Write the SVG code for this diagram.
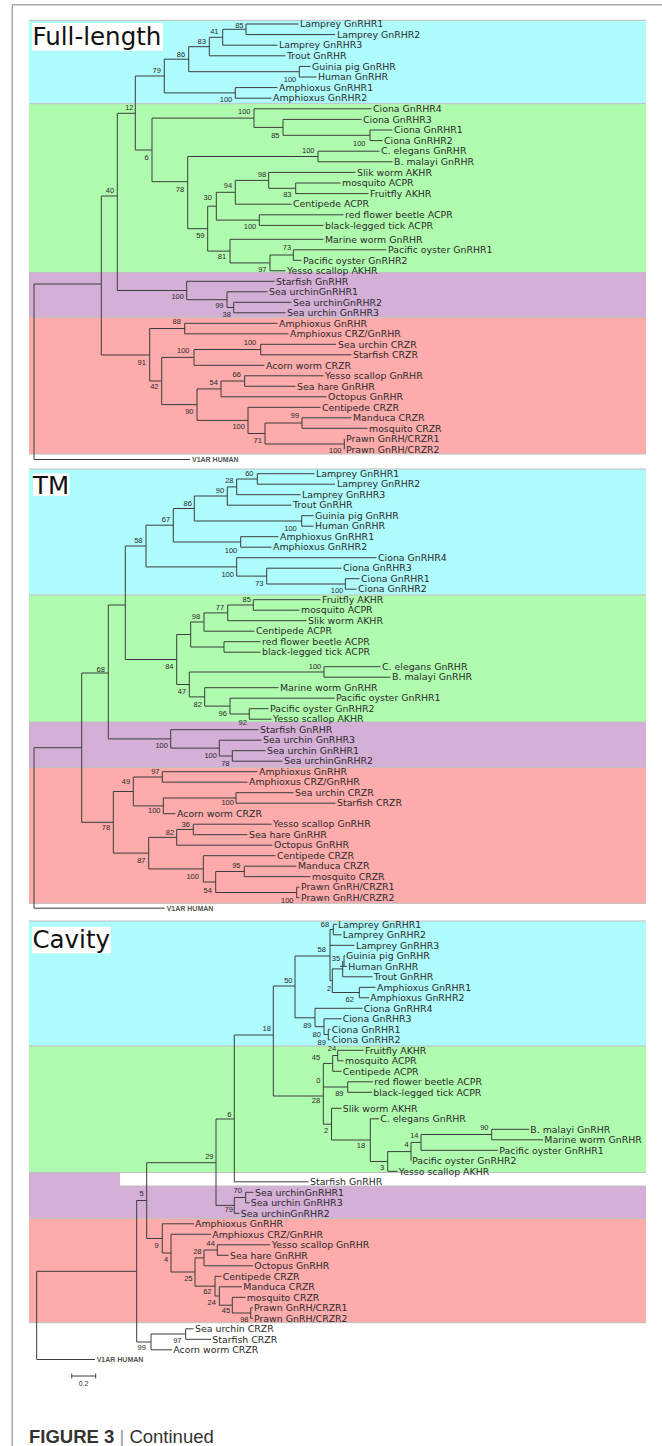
<svg xmlns="http://www.w3.org/2000/svg" width="662" height="1446" viewBox="0 0 662 1446">
<style>
.b{fill:none;stroke:#3c3c3c;stroke-width:1}
.t{font-family:"DejaVu Sans",Verdana,sans-serif;font-size:9.4px;fill:#2a2a2a}
.s{font-family:"Liberation Sans",Arial,sans-serif;font-size:7.5px;fill:#2a2a2a;text-anchor:middle}
.v{font-family:"Liberation Sans",Arial,sans-serif;font-size:7px;font-weight:bold;fill:#555}
.h{font-family:"DejaVu Sans",Verdana,sans-serif;font-size:24.5px;fill:#111}
.sep{stroke:#bfbfbf;stroke-width:1}
.cy{fill:#aefcfc}.gr{fill:#b0fcae}.pu{fill:#d4afd6}.pk{fill:#fdabab}
</style>
<rect width="662" height="1446" fill="#fff"/>
<path d="M12.3 4.7H662M12.3 4.7V1446" stroke="#a8a8a8" stroke-width="1.5" fill="none"/>
<g id="bands">
<rect class="cy" x="29" y="20.3" width="617" height="83.4"/>
<rect class="gr" x="29" y="103.7" width="617" height="168.8"/>
<rect class="pu" x="29" y="272.5" width="617" height="44.8"/>
<rect class="pk" x="29" y="317.3" width="617" height="136.7"/>
<rect class="cy" x="29" y="469" width="617" height="126"/>
<rect class="gr" x="29" y="595" width="617" height="127"/>
<rect class="pu" x="29" y="722" width="617" height="45.3"/>
<rect class="pk" x="29" y="767.3" width="617" height="136"/>
<rect class="cy" x="29" y="921" width="617" height="125"/>
<rect class="gr" x="29" y="1046" width="617" height="126.5"/>
<rect class="pu" x="29" y="1172.5" width="617" height="45.8"/>
<rect fill="#fff" x="120" y="1172.5" width="526" height="13.5"/>
<rect class="pk" x="29" y="1218.3" width="617" height="104.4"/>
<path class="sep" d="M29 20.3H646M29 103.7H646M29 272.5H646M29 317.3H646M29 454H646M29 469H646M29 595H646M29 722H646M29 767.3H646M29 903.3H646M29 921H646M29 1046H646M29 1172.5H646M120 1186H646M29 1218.3H646M29 1322.7H646"/>
</g>
<g id="titles">
<rect x="32" y="23" width="131" height="27.7" fill="#fff"/>
<text class="h" x="32.5" y="45">Full-length</text>
<rect x="33" y="473.3" width="36.5" height="22.7" fill="#fff"/>
<text class="h" x="33" y="494">TM</text>
<rect x="32" y="926.7" width="79" height="26.6" fill="#fff"/>
<text class="h" x="32.5" y="948">Cavity</text>
</g>
<g id="connectors">
<path class="b" d="M246 24V34.6M246 24H298.5M246 34.6H335M222.7 29.3V45.2M222.7 29.3H246M222.7 45.2H277.5M209.3 37.3V55.8M209.3 37.3H222.7M209.3 55.8H285.5M299.3 66.4V77M299.3 66.4H310.5M299.3 77H316.5M188.7 46.7V71.7M188.7 46.7H209.3M188.7 71.7H299.3M235.3 87.6V98.2M235.3 87.6H277.5M235.3 98.2H271.5M164.3 59.2V92.9M164.3 59.2H188.7M164.3 92.9H235.3M370 130V140.6M370 130H392.5M370 140.6H382.5M283 119.4V135.3M283 119.4H361.5M283 135.3H370M254 108.8V127.4M254 108.8H371.5M254 127.4H283M318 151.2V161.8M318 151.2H379.5M318 161.8H392.5M295.7 183V193.6M295.7 183H340.5M295.7 193.6H368.5M268.7 172.4V188.3M268.7 172.4H355.5M268.7 188.3H295.7M235.3 180.4V204.2M235.3 180.4H268.7M235.3 204.2H291.5M259.3 214.8V225.4M259.3 214.8H343.5M259.3 225.4H323.5M216.3 192.3V220.1M216.3 192.3H235.3M216.3 220.1H259.3M293.3 249.8V260.3M293.3 249.8H386.5M293.3 260.3H301.5M270 255V270.8M270 255H293.3M270 270.8H285.5M230 239.3V262.9M230 239.3H323.5M230 262.9H270M207.7 206.2V251.1M207.7 206.2H216.3M207.7 251.1H230M187.7 156.5V228.7M187.7 156.5H318M187.7 228.7H207.7M152 118.1V181.7M152 118.1H254M152 181.7H187.7M135.3 76V150M135.3 76H164.3M135.3 150H152M233.7 302.3V312.8M233.7 302.3H291.5M233.7 312.8H285.5M227 291.8V307.5M227 291.8H267.5M227 307.5H233.7M186.7 281.3V299.7M186.7 281.3H274.5M186.7 299.7H227M117.3 113.3V290.5M117.3 113.3H135.3M117.3 290.5H186.7M184.7 323.3V333.8M184.7 323.3H277.5M184.7 333.8H288.5M260.7 344.3V354.8M260.7 344.3H336M260.7 354.8H351.5M194 349.5V365.3M194 349.5H260.7M194 365.3H264.5M244.7 375.8V386.3M244.7 375.8H323.5M244.7 386.3H295.5M221 381V396.8M221 381H244.7M221 396.8H326.5M302 417.8V428.3M302 417.8H351.5M302 428.3H367.5M344.3 438.8V449.3M265 423V444M265 423H302M265 444H344.3M248 407.3V433.5M248 407.3H320.5M248 433.5H265M197 388.9V420.4M197 388.9H221M197 420.4H248M161.7 357.4V404.6M161.7 357.4H194M161.7 404.6H197M149.7 328.5V381M149.7 328.5H184.7M149.7 381H161.7M101.3 196V355M101.3 196H117.3M101.3 355H149.7M34 284V459.5M34 284H101.3M34 459.5H190"/>
<path class="b" d="M257.3 473.7V484.2M257.3 473.7H314.5M257.3 484.2H335M236.7 479V494.7M236.7 479H257.3M236.7 494.7H300.5M227.3 486.9V505.2M227.3 486.9H236.7M227.3 505.2H291.5M301.7 515.7V526.2M301.7 515.7H313.5M301.7 526.2H313.5M194.3 496V521M194.3 496H227.3M194.3 521H301.7M240.7 536.7V547.2M240.7 536.7H278.5M240.7 547.2H271.5M173.3 508.5V542M173.3 508.5H194.3M173.3 542H240.7M345.3 578.7V589.2M345.3 578.7H359.5M345.3 589.2H356.5M266.7 568.2V584M266.7 568.2H341.5M266.7 584H345.3M236.7 557.7V576.1M236.7 557.7H376.5M236.7 576.1H266.7M146 525.2V566.9M146 525.2H173.3M146 566.9H236.7M253.3 599.7V610.2M253.3 599.7H320.5M253.3 610.2H299.5M227.7 605V620.7M227.7 605H253.3M227.7 620.7H306.5M204 612.9V631.2M204 612.9H227.7M204 631.2H254.5M224 641.7V652.2M224 641.7H260.5M224 652.2H260.5M190.7 622V647M190.7 622H204M190.7 647H224M324 666.7V677.2M324 666.7H380.5M324 677.2H390.5M249.3 708.7V719.2M249.3 708.7H268.5M249.3 719.2H271.5M230 698.2V714M230 698.2H334.5M230 714H249.3M204.7 687.7V706.1M204.7 687.7H278.5M204.7 706.1H230M189.3 672V696.9M189.3 672H324M189.3 696.9H204.7M176.7 634.5V684.5M176.7 634.5H190.7M176.7 684.5H189.3M125.3 546V659.5M125.3 546H146M125.3 659.5H176.7M232.3 750.7V761.2M232.3 750.7H265.5M232.3 761.2H282.5M219.3 740.2V756M219.3 740.2H261.5M219.3 756H232.3M170.7 729.7V748.1M170.7 729.7H258.5M170.7 748.1H219.3M108.3 605V738.9M108.3 605H125.3M108.3 738.9H170.7M162.3 771.7V782.2M162.3 771.7H257.5M162.3 782.2H247.5M236 792.7V803.2M236 792.7H293.5M236 803.2H335.5M163.3 798V813.7M163.3 798H236M163.3 813.7H175.5M133.3 777V805.9M133.3 777H162.3M133.3 805.9H163.3M193.3 824.2V834.7M193.3 824.2H271.5M193.3 834.7H247.5M176.7 829.5V845.2M176.7 829.5H193.3M176.7 845.2H272.5M244.3 866.2V876.7M244.3 866.2H296.5M244.3 876.7H310.5M296.7 887.2V897.7M296.7 887.2H299.5M296.7 897.7H299.5M215.7 871.5V892.5M215.7 871.5H244.3M215.7 892.5H296.7M203.3 855.7V882M203.3 855.7H275.5M203.3 882H215.7M148.7 837.4V868.9M148.7 837.4H176.7M148.7 868.9H203.3M113.3 791.5V853.1M113.3 791.5H133.3M113.3 853.1H148.7M81.7 673V822.3M81.7 673H108.3M81.7 822.3H113.3M34 747.7V908.2M34 747.7H81.7M34 908.2H164.5"/>
<path class="b" d="M333.3 924.3V934.8M333.3 924.3H337M333.3 934.8H341.5M330 929.5V980.7M330 929.5H333.3M330 945.3H354.5M344 955.8V966.3M344 955.8H345M340 966.3H347M342.7 961V976.8M342.7 976.8H372.5M359.3 987.3V997.8M359.3 987.3H375.5M359.3 997.8H369M332.3 968.9V992.5M332.3 968.9H342.7M332.3 992.5H359.3M330 980.7H332.3M328.3 1029.3V1039.8M328.3 1029.3H330.5M328.3 1039.8H330.5M324 1018.8V1034.5M324 1018.8H341.5M324 1034.5H328.3M315 1008.3V1026.7M315 1008.3H362.5M315 1026.7H324M295 956V1017.8M295 956H330M295 1017.8H315M337.7 1050.3V1060.8M337.7 1050.3H363.5M337.7 1060.8H343.5M332.7 1055.5V1071.3M332.7 1055.5H337.7M332.7 1071.3H341.5M347.7 1081.8V1092.3M347.7 1081.8H373M347.7 1092.3H372M323.3 1063.4V1124.2M323.3 1063.4H332.7M323.3 1087H347.7M323.3 1124.2H331.5M491.7 1129.3V1139.8M491.7 1129.3H529M491.7 1139.8H543M421 1134.5V1150.3M421 1134.5H491.7M421 1150.3H498M411 1142.4V1160.8M411 1142.4H421M387.7 1151.6V1171.3M387.7 1151.6H411M387.7 1171.3H397.5M370.3 1118.8V1161.5M370.3 1118.8H379M370.3 1161.5H387.7M331.5 1108.3V1140M331.5 1108.3H341.5M331.5 1140H370.3M273.3 986V1096M273.3 986H295M273.3 1096H323.3M234.3 1035V1181.8M234.3 1035H273.3M234.3 1181.8H308.5M245.7 1192.3V1202.8M245.7 1192.3H253.5M245.7 1202.8H249.5M234.3 1197.5V1213.3M234.3 1197.5H245.7M234.3 1213.3H239.5M216 1119V1205.4M216 1119H234.3M216 1205.4H234.3M217.3 1244.8V1255.3M217.3 1244.8H270M217.3 1255.3H228.5M204 1250V1265.8M204 1250H217.3M204 1265.8H253M250.7 1307.8V1318.3M250.7 1307.8H253M250.7 1318.3H253M232.3 1297.3V1313M232.3 1297.3H245.5M232.3 1313H250.7M219.3 1286.8V1305.2M219.3 1286.8H242M219.3 1305.2H232.3M215 1276.3V1296M215 1276.3H221.5M215 1296H219.3M195 1257.9V1286.2M195 1257.9H204M195 1286.2H215M171 1234.3V1272M171 1234.3H211M171 1272H195M162.3 1223.8V1253M162.3 1223.8H194M162.3 1253H171M146.7 1162.7V1238.5M146.7 1162.7H216M146.7 1238.5H162.3M185.7 1328.8V1339.3M185.7 1328.8H193.5M185.7 1339.3H211M151 1334V1349.8M151 1334H185.7M151 1349.8H172M136.7 1200.5V1342M136.7 1200.5H146.7M136.7 1342H151M36.7 1271.3V1359.5M36.7 1271.3H136.7M36.7 1359.5H95"/>
</g>
<g id="p1-leaves" class="t">
<g id="p1-l1"><text x="300" y="27.2">Lamprey GnRHR1</text></g>
<g id="p1-l2"><text x="337" y="37.8">Lamprey GnRHR2</text></g>
<g id="p1-l3"><text x="279" y="48.4">Lamprey GnRHR3</text></g>
<g id="p1-l4"><text x="287" y="59">Trout GnRHR</text></g>
<g id="p1-l5"><text x="312" y="69.6">Guinia pig GnRHR</text></g>
<g id="p1-l6"><text x="318" y="80.2">Human GnRHR</text></g>
<g id="p1-l7"><text x="279" y="90.8">Amphioxus GnRHR1</text></g>
<g id="p1-l8"><text x="273" y="101.4">Amphioxus GnRHR2</text></g>
<g id="p1-l9"><text x="373" y="112">Ciona GnRHR4</text></g>
<g id="p1-l10"><text x="363" y="122.6">Ciona GnRHR3</text></g>
<g id="p1-l11"><text x="394" y="133.2">Ciona GnRHR1</text></g>
<g id="p1-l12"><text x="384" y="143.8">Ciona GnRHR2</text></g>
<g id="p1-l13"><text x="381" y="154.4">C. elegans GnRHR</text></g>
<g id="p1-l14"><text x="394" y="165">B. malayi GnRHR</text></g>
<g id="p1-l15"><text x="357" y="175.6">Slik worm AKHR</text></g>
<g id="p1-l16"><text x="342" y="186.2">mosquito ACPR</text></g>
<g id="p1-l17"><text x="370" y="196.8">Fruitfly AKHR</text></g>
<g id="p1-l18"><text x="293" y="207.4">Centipede ACPR</text></g>
<g id="p1-l19"><text x="345" y="218">red flower beetle ACPR</text></g>
<g id="p1-l20"><text x="325" y="228.6">black-legged tick ACPR</text></g>
<g id="p1-l21"><text x="325" y="242.5">Marine worm GnRHR</text></g>
<g id="p1-l22"><text x="388" y="253">Pacific oyster GnRHR1</text></g>
<g id="p1-l23"><text x="303" y="263.5">Pacific oyster GnRHR2</text></g>
<g id="p1-l24"><text x="287" y="274">Yesso scallop AKHR</text></g>
<g id="p1-l25"><text x="276" y="284.5">Starfish GnRHR</text></g>
<g id="p1-l26"><text x="269" y="295">Sea urchinGnRHR1</text></g>
<g id="p1-l27"><text x="293" y="305.5">Sea urchinGnRHR2</text></g>
<g id="p1-l28"><text x="287" y="316">Sea urchin GnRHR3</text></g>
<g id="p1-l29"><text x="279" y="326.5">Amphioxus GnRHR</text></g>
<g id="p1-l30"><text x="290" y="337">Amphioxus CRZ/GnRHR</text></g>
<g id="p1-l31"><text x="338" y="347.5">Sea urchin CRZR</text></g>
<g id="p1-l32"><text x="353" y="358">Starfish CRZR</text></g>
<g id="p1-l33"><text x="266" y="368.5">Acorn worm CRZR</text></g>
<g id="p1-l34"><text x="325" y="379">Yesso scallop GnRHR</text></g>
<g id="p1-l35"><text x="297" y="389.5">Sea hare GnRHR</text></g>
<g id="p1-l36"><text x="328" y="400">Octopus GnRHR</text></g>
<g id="p1-l37"><text x="322" y="410.5">Centipede CRZR</text></g>
<g id="p1-l38"><text x="353" y="421">Manduca CRZR</text></g>
<g id="p1-l39"><text x="369" y="431.5">mosquito CRZR</text></g>
<g id="p1-l40"><text x="346" y="442">Prawn GnRH/CRZR1</text></g>
<g id="p1-l41"><text x="346" y="452.5">Prawn GnRH/CRZR2</text></g>
</g>
<g id="p1-out"><text class="v" x="192" y="462">V1AR HUMAN</text></g>
<g id="p1-boot" class="s">
<text x="239.3" y="27.7">85</text><text x="214.3" y="34.4">41</text><text x="201.7" y="44.4">83</text><text x="181" y="56.7">86</text><text x="290" y="81.7">100</text><text x="156.7" y="73.4">79</text><text x="226" y="102">100</text><text x="129.3" y="110">12</text><text x="244.3" y="114.4">100</text><text x="275.3" y="137.7">85</text><text x="359.3" y="146">100</text><text x="146.7" y="160">6</text><text x="308.3" y="152.7">100</text><text x="262" y="176.7">98</text><text x="287.3" y="196.7">83</text><text x="228" y="187.7">94</text><text x="180" y="192">78</text><text x="207.7" y="200">30</text><text x="250" y="229.4">100</text><text x="200.3" y="238">59</text><text x="287" y="250">73</text><text x="222" y="259.4">81</text><text x="262.3" y="271.7">97</text><text x="110" y="192.7">40</text><text x="177.7" y="299.4">100</text><text x="219.3" y="308.4">99</text><text x="226.7" y="316.7">38</text><text x="176.7" y="324.4">88</text><text x="250" y="345.4">100</text><text x="183.3" y="352.7">100</text><text x="141.7" y="365.4">91</text><text x="236.7" y="377">66</text><text x="213.7" y="385">54</text><text x="154.3" y="389.4">42</text><text x="189.3" y="413.7">90</text><text x="295" y="418.4">99</text><text x="238.7" y="429.4">100</text><text x="257.7" y="442.7">71</text><text x="335.3" y="452.7">100</text>
</g>
<g id="p2-leaves" class="t">
<g id="p2-l1"><text x="316" y="476.9">Lamprey GnRHR1</text></g>
<g id="p2-l2"><text x="337" y="487.4">Lamprey GnRHR2</text></g>
<g id="p2-l3"><text x="302" y="497.9">Lamprey GnRHR3</text></g>
<g id="p2-l4"><text x="293" y="508.4">Trout GnRHR</text></g>
<g id="p2-l5"><text x="315" y="518.9">Guinia pig GnRHR</text></g>
<g id="p2-l6"><text x="315" y="529.4">Human GnRHR</text></g>
<g id="p2-l7"><text x="280" y="539.9">Amphioxus GnRHR1</text></g>
<g id="p2-l8"><text x="273" y="550.4">Amphioxus GnRHR2</text></g>
<g id="p2-l9"><text x="378" y="560.9">Ciona GnRHR4</text></g>
<g id="p2-l10"><text x="343" y="571.4">Ciona GnRHR3</text></g>
<g id="p2-l11"><text x="361" y="581.9">Ciona GnRHR1</text></g>
<g id="p2-l12"><text x="358" y="592.4">Ciona GnRHR2</text></g>
<g id="p2-l13"><text x="322" y="602.9">Fruitfly AKHR</text></g>
<g id="p2-l14"><text x="301" y="613.4">mosquito ACPR</text></g>
<g id="p2-l15"><text x="308" y="623.9">Slik worm AKHR</text></g>
<g id="p2-l16"><text x="256" y="634.4">Centipede ACPR</text></g>
<g id="p2-l17"><text x="262" y="644.9">red flower beetle ACPR</text></g>
<g id="p2-l18"><text x="262" y="655.4">black-legged tick ACPR</text></g>
<g id="p2-l19"><text x="382" y="669.9">C. elegans GnRHR</text></g>
<g id="p2-l20"><text x="392" y="680.4">B. malayi GnRHR</text></g>
<g id="p2-l21"><text x="280" y="690.9">Marine worm GnRHR</text></g>
<g id="p2-l22"><text x="336" y="701.4">Pacific oyster GnRHR1</text></g>
<g id="p2-l23"><text x="270" y="711.9">Pacific oyster GnRHR2</text></g>
<g id="p2-l24"><text x="273" y="722.4">Yesso scallop AKHR</text></g>
<g id="p2-l25"><text x="260" y="732.9">Starfish GnRHR</text></g>
<g id="p2-l26"><text x="263" y="743.4">Sea urchin GnRHR3</text></g>
<g id="p2-l27"><text x="267" y="753.9">Sea urchin GnRHR1</text></g>
<g id="p2-l28"><text x="284" y="764.4">Sea urchinGnRHR2</text></g>
<g id="p2-l29"><text x="259" y="774.9">Amphioxus GnRHR</text></g>
<g id="p2-l30"><text x="249" y="785.4">Amphioxus CRZ/GnRHR</text></g>
<g id="p2-l31"><text x="295" y="795.9">Sea urchin CRZR</text></g>
<g id="p2-l32"><text x="337" y="806.4">Starfish CRZR</text></g>
<g id="p2-l33"><text x="177" y="816.9">Acorn worm CRZR</text></g>
<g id="p2-l34"><text x="273" y="827.4">Yesso scallop GnRHR</text></g>
<g id="p2-l35"><text x="249" y="837.9">Sea hare GnRHR</text></g>
<g id="p2-l36"><text x="274" y="848.4">Octopus GnRHR</text></g>
<g id="p2-l37"><text x="277" y="858.9">Centipede CRZR</text></g>
<g id="p2-l38"><text x="298" y="869.4">Manduca CRZR</text></g>
<g id="p2-l39"><text x="312" y="879.9">mosquito CRZR</text></g>
<g id="p2-l40"><text x="301" y="890.4">Prawn GnRH/CRZR1</text></g>
<g id="p2-l41"><text x="301" y="900.9">Prawn GnRH/CRZR2</text></g>
</g>
<g id="p2-out"><text class="v" x="166.7" y="910.7">V1AR HUMAN</text></g>
<g id="p2-boot" class="s">
<text x="249.3" y="476">60</text><text x="229.3" y="483.4">28</text><text x="220" y="492.7">90</text><text x="187.7" y="506">86</text><text x="290.5" y="531">100</text><text x="166" y="522">67</text><text x="231" y="552.7">100</text><text x="138.3" y="543.4">58</text><text x="227.7" y="576.7">100</text><text x="259.3" y="586">73</text><text x="337" y="593.4">100</text><text x="246.7" y="602">85</text><text x="220" y="610">77</text><text x="196" y="618.7">98</text><text x="169.3" y="668.7">84</text><text x="315" y="669.4">100</text><text x="182" y="694.4">47</text><text x="197.7" y="706.7">82</text><text x="222.7" y="716">96</text><text x="242.7" y="725">92</text><text x="100.7" y="672">68</text><text x="161.7" y="748.4">100</text><text x="210.7" y="757.7">100</text><text x="225.3" y="766">78</text><text x="155.3" y="773.7">97</text><text x="126" y="784.4">49</text><text x="227.7" y="805.4">100</text><text x="154.3" y="812.7">100</text><text x="185.7" y="826.7">36</text><text x="170" y="834.7">82</text><text x="106" y="830">78</text><text x="141.3" y="862.7">87</text><text x="236.3" y="868">95</text><text x="192.7" y="878.7">100</text><text x="207.7" y="892.7">54</text><text x="287.3" y="902.7">100</text>
</g>
<g id="p3-leaves" class="t">
<g id="p3-l1"><text x="338" y="927.5">Lamprey GnRHR1</text></g>
<g id="p3-l2"><text x="342.7" y="938">Lamprey GnRHR2</text></g>
<g id="p3-l3"><text x="356" y="948.5">Lamprey GnRHR3</text></g>
<g id="p3-l4"><text x="346" y="959">Guinia pig GnRHR</text></g>
<g id="p3-l5"><text x="348.3" y="969.5">Human GnRHR</text></g>
<g id="p3-l6"><text x="373.7" y="980">Trout GnRHR</text></g>
<g id="p3-l7"><text x="377" y="990.5">Amphioxus GnRHR1</text></g>
<g id="p3-l8"><text x="370.3" y="1001">Amphioxus GnRHR2</text></g>
<g id="p3-l9"><text x="363.7" y="1011.5">Ciona GnRHR4</text></g>
<g id="p3-l10"><text x="342.7" y="1022">Ciona GnRHR3</text></g>
<g id="p3-l11"><text x="331.7" y="1032.5">Ciona GnRHR1</text></g>
<g id="p3-l12"><text x="331.7" y="1043">Ciona GnRHR2</text></g>
<g id="p3-l13"><text x="365" y="1053.5">Fruitfly AKHR</text></g>
<g id="p3-l14"><text x="345" y="1064">mosquito ACPR</text></g>
<g id="p3-l15"><text x="342.7" y="1074.5">Centipede ACPR</text></g>
<g id="p3-l16"><text x="374.3" y="1085">red flower beetle ACPR</text></g>
<g id="p3-l17"><text x="373.3" y="1095.5">black-legged tick ACPR</text></g>
<g id="p3-l18"><text x="342.7" y="1111.5">Slik worm AKHR</text></g>
<g id="p3-l19"><text x="380.3" y="1122">C. elegans GnRHR</text></g>
<g id="p3-l20"><text x="530.3" y="1132.5">B. malayi GnRHR</text></g>
<g id="p3-l21"><text x="544.3" y="1143">Marine worm GnRHR</text></g>
<g id="p3-l22"><text x="499.3" y="1153.5">Pacific oyster GnRHR1</text></g>
<g id="p3-l23"><text x="412" y="1164">Pacific oyster GnRHR2</text></g>
<g id="p3-l24"><text x="398.7" y="1174.5">Yesso scallop AKHR</text></g>
<g id="p3-l25"><text x="310" y="1185">Starfish GnRHR</text></g>
<g id="p3-l26"><text x="255" y="1195.5">Sea urchinGnRHR1</text></g>
<g id="p3-l27"><text x="250.7" y="1206">Sea urchin GnRHR3</text></g>
<g id="p3-l28"><text x="240.7" y="1216.5">Sea urchinGnRHR2</text></g>
<g id="p3-l29"><text x="195" y="1227">Amphioxus GnRHR</text></g>
<g id="p3-l30"><text x="212.3" y="1237.5">Amphioxus CRZ/GnRHR</text></g>
<g id="p3-l31"><text x="271.7" y="1248">Yesso scallop GnRHR</text></g>
<g id="p3-l32"><text x="230" y="1258.5">Sea hare GnRHR</text></g>
<g id="p3-l33"><text x="254.3" y="1269">Octopus GnRHR</text></g>
<g id="p3-l34"><text x="222.7" y="1279.5">Centipede CRZR</text></g>
<g id="p3-l35"><text x="243.3" y="1290">Manduca CRZR</text></g>
<g id="p3-l36"><text x="246.7" y="1300.5">mosquito CRZR</text></g>
<g id="p3-l37"><text x="254" y="1311">Prawn GnRH/CRZR1</text></g>
<g id="p3-l38"><text x="254" y="1321.5">Prawn GnRH/CRZR2</text></g>
<g id="p3-l39"><text x="195" y="1332">Sea urchin CRZR</text></g>
<g id="p3-l40"><text x="212.3" y="1342.5">Starfish CRZR</text></g>
<g id="p3-l41"><text x="173.3" y="1353">Acorn worm CRZR</text></g>
</g>
<g id="p3-out"><text class="v" x="96.7" y="1362">V1AR HUMAN</text></g>
<g id="p3-boot" class="s">
<text x="325" y="927">68</text><text x="321.7" y="952">58</text><text x="336" y="961">35</text><text x="329" y="990.7">2</text><text x="349.7" y="1002.4">62</text><text x="288.3" y="983.4">50</text><text x="307.3" y="1027.7">89</text><text x="316.7" y="1036.7">80</text><text x="321.7" y="1045">89</text><text x="266.7" y="1031">18</text><text x="332" y="1050.7">24</text><text x="316" y="1060.4">45</text><text x="318.3" y="1082.7">0</text><text x="339.3" y="1096">89</text><text x="316" y="1103.4">28</text><text x="326" y="1133.4">2</text><text x="361" y="1147.7">18</text><text x="484.3" y="1130.4">90</text><text x="414.3" y="1137.7">14</text><text x="406.5" y="1147">4</text><text x="382" y="1170.4">3</text><text x="229.3" y="1117">6</text><text x="209.3" y="1159.4">29</text><text x="141.7" y="1196">5</text><text x="237.7" y="1192.7">70</text><text x="228.7" y="1212">79</text><text x="156.7" y="1247.7">9</text><text x="166" y="1261.7">4</text><text x="210.7" y="1246">44</text><text x="197.3" y="1254.4">28</text><text x="188.3" y="1281">25</text><text x="207.3" y="1294.4">62</text><text x="211.7" y="1305">24</text><text x="226" y="1313.4">45</text><text x="244.3" y="1321.7">98</text><text x="177.3" y="1342.7">97</text><text x="141.7" y="1350.4">99</text>
</g>
<g id="scale">
<path class="b" d="M71.7 1376H95.7M71.7 1373.5V1378.5M95.7 1373.5V1378.5"/>
<text x="83.5" y="1386" font-family="Liberation Sans, Arial, sans-serif" font-size="7" fill="#333" text-anchor="middle">0.2</text>
</g>
<g id="caption">
<text x="29" y="1442.5" font-family="Liberation Sans, Arial, sans-serif" font-size="18.5" fill="#333"><tspan font-weight="bold">FIGURE 3</tspan><tspan fill="#999"> | </tspan><tspan>Continued</tspan></text>
</g>
</svg>
